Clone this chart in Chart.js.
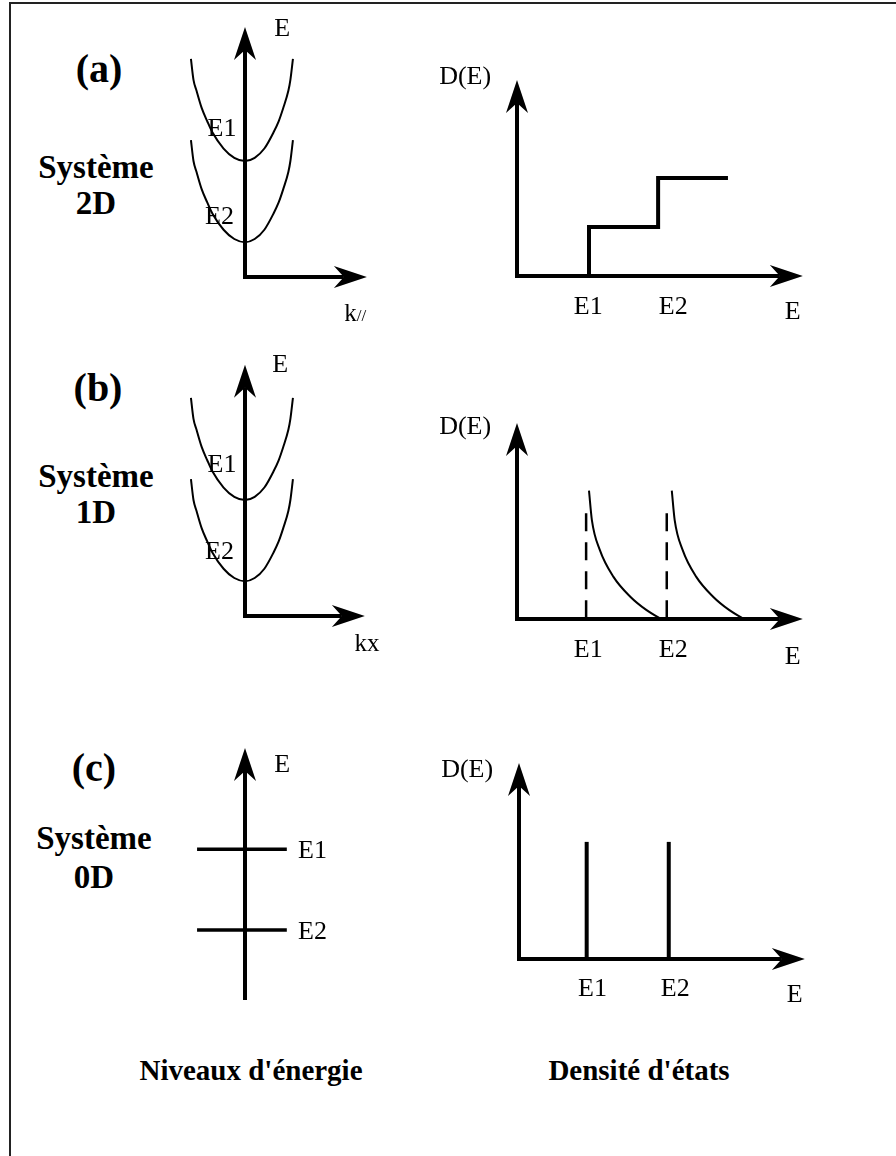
<!DOCTYPE html>
<html>
<head>
<meta charset="utf-8">
<script src="https://cdn.jsdelivr.net/npm/chart.js@4.4.1/dist/chart.umd.min.js"></script>
<style>
  html, body { margin: 0; padding: 0; background: #fff; }
  body { width: 896px; height: 1156px; position: relative; overflow: hidden; font-family: "Liberation Serif", "Times New Roman", serif; color: #000; }
  .frame { position: absolute; left: 9px; top: 2px; width: 920px; height: 1200px; border-top: 2px solid #222; border-left: 2px solid #222; }
  canvas { position: absolute; }
  .tag { position: absolute; font-weight: bold; line-height: 1; white-space: nowrap; transform: translate(-50%, -50%); }
  .letter { font-size: 40px; }
  .sys { font-size: 33px; }
  .caption { font-size: 29px; }
</style>
</head>
<body>
<div class="frame"></div>

<div class="tag letter" style="left:99px; top:69px">(a)</div>
<div class="tag sys" style="left:96px; top:167px">Système</div>
<div class="tag sys" style="left:96px; top:203px">2D</div>

<div class="tag letter" style="left:98px; top:388px">(b)</div>
<div class="tag sys" style="left:96px; top:476px">Système</div>
<div class="tag sys" style="left:96px; top:512px">1D</div>

<div class="tag letter" style="left:94px; top:768px">(c)</div>
<div class="tag sys" style="left:94px; top:838px">Système</div>
<div class="tag sys" style="left:94px; top:877px">0D</div>

<div class="tag caption" style="left:251px; top:1070px">Niveaux d'énergie</div>
<div class="tag caption" style="left:639px; top:1070px">Densité d'états</div>

<script>
// ===== DATA =====
// dispersion E(k): two sub-bands (U shaped, steep arms)
const kGrid  = [-1.06, -1.01, -0.95, -0.85, -0.74, -0.64, -0.42, -0.21, 0, 0.19, 0.38, 0.56, 0.66, 0.75, 0.85, 0.89, 0.94];
const bandE1 = [7.52, 6.80, 6.42, 5.83, 5.37, 4.99, 4.43, 4.11, 4.0, 4.11, 4.43, 4.99, 5.37, 5.83, 6.42, 6.80, 7.52];
const bandE2 = [4.72, 4.00, 3.62, 3.03, 2.57, 2.19, 1.63, 1.31, 1.2, 1.31, 1.63, 2.19, 2.57, 3.03, 3.62, 4.00, 4.72];

// 0D discrete levels
const levelE    = [5.2, 2.41];
const levelSpan = [-0.94, 0.82];

// 2D density of states: staircase
const stepE = [1.0, 1.0, 1.96, 1.96, 2.93];
const stepD = [0, 1, 1, 2, 2];

// 1D density of states: 1/sqrt branches
const wireE1 = [1.00, 1.04, 1.15, 1.34, 1.57, 1.80, 1.99];
const wireE2 = [2.15, 2.19, 2.30, 2.49, 2.72, 2.95, 3.14];
const wireD  = [2.62, 2.02, 1.41, 0.86, 0.46, 0.18, 0.01];
const wireEdges = [0.96, 2.08];
const wireEdgeTop = 2.16;

// 0D density of states: delta peaks
const dotE = [0.94, 2.08];
const dotD = 2.39;

// tick labels on the E axis of the DOS panels
const tickNames = ["E1", "E2"];
const tickPos   = [0.99, 2.17];

const pts = (xs, ys) => xs.map((x, i) => ({ x: x, y: ys[i] }));

const FONT = '"Liberation Serif", "Times New Roman", serif';

// ===== DRAWING HELPERS =====
function arrowHead(ctx, x, y, dx, dy) {
    const len = 33, half = 11, notch = 23;
    const px = -dy, py = dx;
    ctx.beginPath();
    ctx.moveTo(x, y);
    ctx.lineTo(x - dx * len + px * half, y - dy * len + py * half);
    ctx.lineTo(x - dx * notch, y - dy * notch);
    ctx.lineTo(x - dx * len - px * half, y - dy * len - py * half);
    ctx.closePath();
    ctx.fill();
}

function drawAxes(chart, cfg) {
    const { ctx } = chart;
    const xs = chart.scales.x, ys = chart.scales.y;
    const ox = xs.getPixelForValue(0), oy = ys.getPixelForValue(0);
    const ty = ys.getPixelForValue(cfg.yTip);
    ctx.save();
    ctx.strokeStyle = "#000";
    ctx.fillStyle = "#000";
    ctx.lineWidth = 4;
    ctx.lineJoin = "miter";
    ctx.lineCap = "butt";
    ctx.beginPath();
    ctx.moveTo(ox, ty + 23);
    ctx.lineTo(ox, oy);
    let tx = null;
    if (cfg.xTip != null) {
        tx = xs.getPixelForValue(cfg.xTip);
        ctx.lineTo(tx - 23, oy);
    }
    ctx.stroke();
    arrowHead(ctx, ox, ty, 0, -1);
    if (tx != null) arrowHead(ctx, tx, oy, 1, 0);
    ctx.restore();
}

function drawLabels(chart, cfg) {
    const { ctx } = chart;
    const xs = chart.scales.x, ys = chart.scales.y;
    ctx.save();
    ctx.fillStyle = "#000";
    cfg.labels.forEach(l => {
        const x = xs.getPixelForValue(l.x), y = ys.getPixelForValue(l.y);
        const parts = l.parts || [{ t: l.text, size: l.size || 26 }];
        let w = 0;
        parts.forEach(p => { ctx.font = p.size + "px " + FONT; w += ctx.measureText(p.t).width; });
        let cx = l.align === "left" ? x : x - w / 2;
        ctx.textAlign = "left";
        ctx.textBaseline = "alphabetic";
        parts.forEach(p => {
            ctx.font = p.size + "px " + FONT;
            // all parts share the first part's baseline
            ctx.fillText(p.t, cx, y + 0.34 * parts[0].size);
            cx += ctx.measureText(p.t).width;
        });
    });
    ctx.restore();
}

function makePanel(cfg) {
    const [left, top, w, h] = cfg.box;
    const [ox, oy] = cfg.origin;
    const canvas = document.createElement("canvas");
    canvas.width = w;
    canvas.height = h;
    canvas.style.left = left + "px";
    canvas.style.top = top + "px";
    canvas.style.width = w + "px";
    canvas.style.height = h + "px";
    document.body.appendChild(canvas);
    return new Chart(canvas, {
        type: "scatter",
        data: { datasets: cfg.datasets },
        options: {
            responsive: false,
            animation: false,
            devicePixelRatio: 1,
            events: [],
            layout: { padding: 0 },
            plugins: { legend: { display: false }, tooltip: { enabled: false } },
            scales: {
                x: { type: "linear", display: false, min: (left - ox) / cfg.ux, max: (left + w - ox) / cfg.ux },
                y: { type: "linear", display: false, min: (oy - top - h) / cfg.uy, max: (oy - top) / cfg.uy }
            }
        },
        plugins: [{
            id: "sketch",
            beforeDatasetsDraw(chart) { drawAxes(chart, cfg); },
            afterDatasetsDraw(chart) { drawLabels(chart, cfg); }
        }]
    });
}

const curve = (data) => ({
    data: data, showLine: true, pointRadius: 0, borderColor: "#000",
    borderWidth: 2, cubicInterpolationMode: "monotone", fill: false
});
const straight = (data, width, dash) => ({
    data: data, showLine: true, pointRadius: 0, borderColor: "#000",
    borderWidth: width, tension: 0, borderDash: dash || [], borderCapStyle: "butt",
    borderJoinStyle: "miter", fill: false
});

// ===== (a) 2D =====
makePanel({
    box: [165, 5, 240, 335], origin: [245, 277], ux: 51, uy: 29,
    yTip: 8.62, xTip: 2.39,
    datasets: [curve(pts(kGrid, bandE1)), curve(pts(kGrid, bandE2))],
    labels: [
        { text: "E", x: 0.73, y: 8.62 },
        { text: "E1", x: -0.45, y: 5.17 },
        { text: "E2", x: -0.5, y: 2.14 },
        { parts: [{ t: "k", size: 25 }, { t: "//", size: 17 }], x: 2.16, y: -1.24 }
    ]
});

makePanel({
    box: [410, 5, 480, 335], origin: [517, 276], ux: 72, uy: 49,
    yTip: 4.0, xTip: 3.97,
    datasets: [straight(pts(stepE, stepD), 4)],
    labels: [
        { text: "D(E)", x: -0.72, y: 4.1 },
        { text: tickNames[0], x: tickPos[0], y: -0.59 },
        { text: tickNames[1], x: tickPos[1], y: -0.59 },
        { text: "E", x: 3.83, y: -0.69 }
    ]
});

// ===== (b) 1D =====
makePanel({
    box: [165, 345, 240, 335], origin: [245, 616], ux: 51, uy: 29,
    yTip: 8.66, xTip: 2.35,
    datasets: [curve(pts(kGrid, bandE1)), curve(pts(kGrid, bandE2))],
    labels: [
        { text: "E", x: 0.69, y: 8.72 },
        { text: "E1", x: -0.45, y: 5.28 },
        { text: "E2", x: -0.5, y: 2.28 },
        { text: "kx", size: 25, x: 2.39, y: -0.93 }
    ]
});

makePanel({
    box: [410, 345, 480, 335], origin: [517, 619], ux: 72, uy: 49,
    yTip: 4.0, xTip: 3.97,
    datasets: [
        curve(pts(wireE1, wireD)),
        curve(pts(wireE2, wireD)),
        straight([{ x: wireEdges[0], y: wireEdgeTop }, { x: wireEdges[0], y: 0 }], 2.5, [18, 11]),
        straight([{ x: wireEdges[1], y: wireEdgeTop }, { x: wireEdges[1], y: 0 }], 2.5, [18, 11])
    ],
    labels: [
        { text: "D(E)", x: -0.72, y: 3.96 },
        { text: tickNames[0], x: tickPos[0], y: -0.59 },
        { text: tickNames[1], x: tickPos[1], y: -0.59 },
        { text: "E", x: 3.83, y: -0.73 }
    ]
});

// ===== (c) 0D =====
makePanel({
    box: [165, 690, 240, 330], origin: [245, 1000], ux: 51, uy: 29,
    yTip: 8.69, xTip: null,
    datasets: [
        straight([{ x: levelSpan[0], y: levelE[0] }, { x: levelSpan[1], y: levelE[0] }], 3.5),
        straight([{ x: levelSpan[0], y: levelE[1] }, { x: levelSpan[1], y: levelE[1] }], 3.5)
    ],
    labels: [
        { text: "E", x: 0.73, y: 8.17 },
        { text: "E1", x: 1.04, y: levelE[0], align: "left" },
        { text: "E2", x: 1.04, y: levelE[1], align: "left" }
    ]
});

makePanel({
    box: [410, 690, 480, 330], origin: [519, 959], ux: 72, uy: 49,
    yTip: 4.0, xTip: 3.97,
    datasets: [
        straight([{ x: dotE[0], y: 0 }, { x: dotE[0], y: dotD }], 4),
        straight([{ x: dotE[1], y: 0 }, { x: dotE[1], y: dotD }], 4)
    ],
    labels: [
        { text: "D(E)", x: -0.72, y: 3.9 },
        { text: tickNames[0], x: tickPos[0] + 0.03, y: -0.57 },
        { text: tickNames[1], x: tickPos[1], y: -0.57 },
        { text: "E", x: 3.83, y: -0.69 }
    ]
});
</script>
</body>
</html>
